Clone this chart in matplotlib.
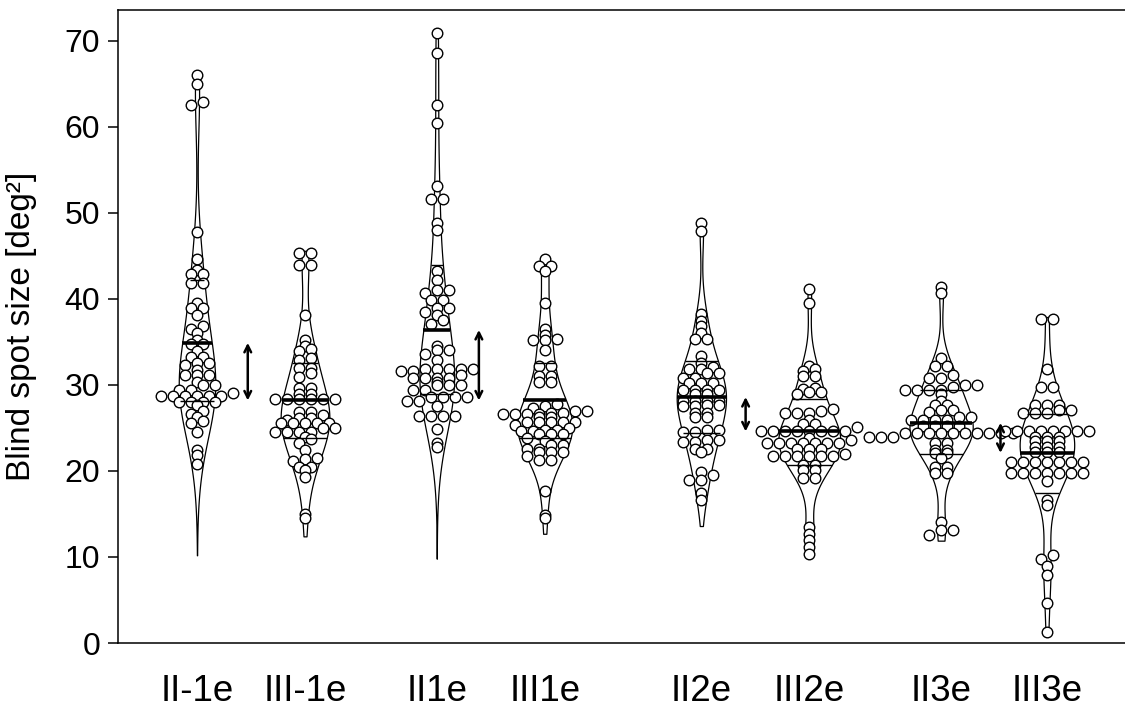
import numpy as np
import matplotlib
matplotlib.use("Agg")
import matplotlib.pyplot as plt

plt.rcParams['font.family'] = ['Liberation Sans', 'DejaVu Sans']

labels = ['II-1e', 'III-1e', 'II1e', 'III1e', 'II2e', 'III2e', 'II3e', 'III3e']

# values (deg^2)
ii_m1e = [66.0, 65.0, 62.9, 62.5, 47.8, 44.7, 43.4, 42.9, 42.9, 41.9, 41.9, 39.5, 38.9, 38.9,
          38.1, 36.8, 36.5, 36.1, 35.2, 34.8, 34.8, 33.9, 33.3, 33.3, 32.5, 32.5, 32.3, 31.7,
          31.2, 31.2, 31.2, 30.4, 30.0, 30.0, 29.4, 29.4, 29.1, 28.7, 28.7, 28.7, 28.7, 28.7,
          28.7, 28.0, 28.0, 28.0, 28.0, 27.7, 27.0, 26.6, 26.3, 25.8, 25.6, 24.5, 22.4, 21.9, 20.8]
iii_m1e = [45.3, 45.3, 44.0, 44.0, 38.1, 35.2, 34.5, 34.2, 33.9, 33.1, 32.9, 32.0, 32.0, 31.4,
           30.9, 29.6, 29.6, 29.0, 29.0, 28.4, 28.4, 28.4, 28.4, 28.4, 28.4, 26.9, 26.9, 26.5,
           26.2, 26.2, 25.9, 25.6, 25.6, 25.6, 25.6, 25.6, 25.0, 25.0, 24.5, 24.5, 24.5, 24.5,
           24.0, 23.7, 23.2, 22.4, 21.5, 21.4, 21.2, 20.5, 20.5, 20.1, 19.3, 15.0, 14.5]
ii_1e = [70.9, 68.6, 62.6, 60.5, 53.1, 51.6, 51.6, 48.8, 48.0, 43.2, 42.2, 41.0, 41.0, 40.7,
         39.9, 39.9, 38.9, 38.9, 38.5, 38.1, 37.6, 37.1, 34.5, 34.1, 34.1, 33.6, 32.9, 31.9,
         31.9, 31.9, 31.9, 31.9, 31.6, 31.6, 31.2, 30.8, 30.8, 30.8, 30.8, 30.4, 30.0, 30.0,
         30.0, 29.4, 29.4, 28.6, 28.6, 28.6, 28.6, 28.1, 28.1, 27.5, 26.4, 26.4, 26.4, 26.4,
         24.9, 23.3, 22.8]
iii_1e = [44.7, 43.8, 43.8, 43.2, 39.5, 36.5, 35.8, 35.4, 35.2, 35.2, 34.1, 32.2, 32.2, 31.0,
          31.0, 30.3, 30.3, 27.8, 27.6, 27.3, 27.0, 27.0, 26.8, 26.8, 26.6, 26.6, 26.6, 26.6,
          26.3, 26.3, 25.7, 25.7, 25.7, 25.7, 25.7, 25.3, 25.0, 24.8, 24.8, 24.6, 24.6, 24.3,
          24.3, 24.3, 23.8, 23.5, 23.0, 23.0, 22.6, 22.6, 22.2, 22.2, 22.2, 21.7, 21.3, 21.3,
          17.7, 14.9, 14.5]
ii_2e = [48.8, 47.9, 38.3, 37.4, 36.9, 36.1, 35.3, 35.3, 33.4, 32.5, 32.1, 31.8, 31.8, 31.4,
         31.4, 30.8, 30.8, 30.2, 30.2, 30.2, 29.4, 29.4, 29.4, 29.4, 28.9, 28.9, 28.1, 28.1,
         28.1, 28.1, 27.7, 27.7, 27.5, 27.5, 26.7, 26.7, 26.3, 26.3, 24.8, 24.8, 24.5, 24.5,
         23.6, 23.6, 23.4, 23.4, 22.6, 22.6, 22.2, 19.9, 19.5, 19.0, 19.0, 17.4, 16.6]
iii_2e = [41.2, 39.5, 32.2, 31.8, 31.6, 31.0, 31.0, 29.7, 29.5, 29.2, 29.2, 29.0, 27.2, 27.0,
          26.7, 26.7, 26.7, 25.9, 25.5, 25.5, 25.1, 24.6, 24.6, 24.6, 24.6, 24.6, 24.6, 24.6,
          24.6, 23.8, 23.6, 23.2, 23.2, 23.2, 23.2, 23.2, 23.2, 23.2, 22.5, 22.5, 22.5, 22.0,
          21.7, 21.7, 21.7, 21.7, 21.7, 21.7, 20.7, 20.7, 20.1, 20.1, 19.2, 19.2, 13.5, 12.7,
          12.0, 11.2, 10.4]
ii_3e = [41.4, 40.7, 33.1, 32.2, 32.2, 31.2, 30.8, 30.8, 30.0, 30.0, 29.8, 29.4, 29.4, 29.4,
         29.4, 28.9, 28.1, 27.7, 27.7, 27.1, 27.1, 26.9, 26.3, 26.3, 25.9, 25.9, 25.9, 25.9,
         25.2, 25.2, 25.2, 25.2, 24.4, 24.4, 24.4, 24.4, 24.4, 24.4, 24.4, 24.4, 24.4, 24.4,
         24.0, 24.0, 24.0, 23.2, 23.2, 22.4, 22.4, 22.1, 22.1, 21.5, 20.5, 20.5, 19.8, 19.8,
         14.1, 13.1, 13.1, 12.6]
iii_3e = [37.7, 37.7, 31.9, 29.8, 29.8, 27.7, 27.7, 27.7, 27.1, 27.1, 26.7, 26.7, 26.7, 24.6,
          24.6, 24.6, 24.6, 24.6, 24.6, 24.6, 24.6, 24.0, 24.0, 24.0, 23.5, 23.5, 23.5, 22.8,
          22.8, 22.8, 22.2, 22.2, 22.2, 21.1, 21.1, 21.1, 21.1, 21.1, 21.1, 21.1, 19.8, 19.8,
          19.8, 19.8, 19.8, 19.8, 19.8, 18.8, 16.6, 16.0, 10.2, 9.8, 8.9, 7.9, 4.6, 1.3]
groups = [ii_m1e, iii_m1e, ii_1e, iii_1e, ii_2e, iii_2e, ii_3e, iii_3e]

# summary lines
medians = [34.9, 28.2, 36.4, 28.2, 28.6, 24.6, 25.6, 22.1]
q1 = [28.1, 23.8, 29.0, 23.8, 24.4, 20.7, 22.0, 17.4]
q3 = [42.2, 32.6, 43.9, 32.5, 32.8, 28.4, 29.4, 26.6]
violin_lo = [10.2, 12.4, 9.8, 12.7, 13.6, 10.2, 11.9, 1.2]
violin_hi = [66.5, 45.6, 71.0, 44.9, 48.8, 41.3, 41.5, 37.9]

# layout
xpos = [0, 1, 2.22, 3.22, 4.67, 5.67, 6.89, 7.87]
arrow_x = [0.47, 2.61, 5.08, 7.44]
width_scale = 3.4
dot_step = 0.111
bin_h = 0.7


def density(vals, ys):
    vals = np.asarray(vals)
    bw = 1.06 * vals.std() * len(vals) ** -0.2
    z = (ys[:, None] - vals[None, :]) / bw
    return np.exp(-0.5 * z ** 2).mean(axis=1) / (bw * np.sqrt(2 * np.pi))


def swarm_offsets(vals):
    vals = np.asarray(vals)
    bins = np.floor(vals / bin_h)
    offs = np.zeros(len(vals))
    for b in np.unique(bins):
        idx = np.where(bins == b)[0]
        idx = idx[np.argsort(vals[idx], kind='stable')]
        n = len(idx)
        offs[idx] = (np.arange(n) - (n - 1) / 2) * dot_step
    return offs


fig = plt.figure(figsize=(11.25, 7.08), dpi=100)
ax = fig.add_axes([0.1049, 0.0918, 0.8951, 0.8941])

for i, vals in enumerate(groups):
    x = xpos[i]
    ys = np.linspace(violin_lo[i], violin_hi[i], 300)
    w = density(vals, ys) * width_scale
    ax.fill_betweenx(ys, x - w, x + w, facecolor='white', edgecolor='black', lw=0.9, zorder=1)

    offs = swarm_offsets(vals)
    ax.scatter(x + offs, vals, s=58, facecolor='white', edgecolor='black', lw=1.0, zorder=2)

    for val, lw in [(q1[i], 1.0), (q3[i], 1.0), (medians[i], 2.6)]:
        hw = density(vals, np.array([val]))[0] * width_scale
        ax.plot([x - hw, x + hw], [val, val], color='black', lw=lw, zorder=3,
                solid_capstyle='butt')

for k, ax_x in enumerate(arrow_x):
    ax.annotate('', xy=(ax_x, medians[2 * k + 1]), xytext=(ax_x, medians[2 * k]),
                arrowprops=dict(arrowstyle='<->', lw=1.8, color='black', mutation_scale=12,
                                shrinkA=0, shrinkB=0), zorder=4)

ax.set_xlim(-0.7315, 8.593)
ax.set_ylim(0, 73.6)
ax.set_yticks([0, 10, 20, 30, 40, 50, 60, 70])
ax.set_xticks(xpos)
ax.set_xticklabels(labels)
ax.tick_params(axis='y', labelsize=23, length=7.2, width=1.1, pad=5.5, direction='out')
ax.tick_params(axis='x', labelsize=26.5, length=0, pad=22)
ax.set_ylabel('Blind spot size [deg²]', fontsize=24, labelpad=20)
ax.spines['right'].set_visible(False)
for s in ['left', 'top', 'bottom']:
    ax.spines[s].set_linewidth(1.1)

fig.savefig('out.png', dpi=100)
